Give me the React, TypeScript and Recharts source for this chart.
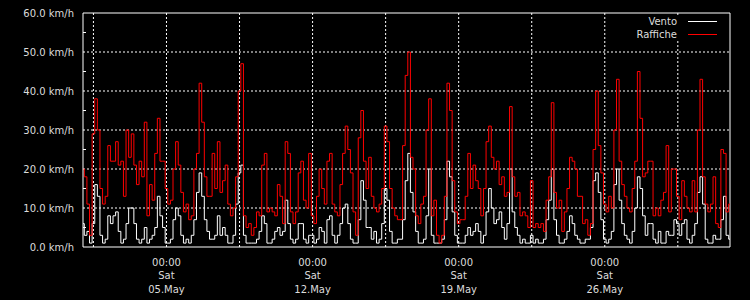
import { LineChart, Line, XAxis, YAxis, ReferenceLine, Legend } from "recharts";

const FONT = "DejaVu Sans";
const TEXT = "#dcdcdc";

// one sample every 3 hours, starting 01.May 00:00
const stepHours = 3;

const vento = [
  6, 3, 4, 1, 6, 16, 13, 3, 1, 2,
  8, 6, 8, 9, 4, 1, 2, 6, 10, 10,
  6, 2, 1, 2, 5, 1, 2, 3, 5, 13,
  8, 5, 1, 1, 2, 7, 10, 8, 3, 1,
  2, 1, 3, 7, 14, 19, 13, 7, 4, 2,
  2, 3, 8, 3, 5, 3, 1, 1, 3, 11,
  19, 21, 3, 1, 1, 1, 1, 2, 4, 8,
  6, 1, 1, 2, 4, 5, 3, 4, 12, 6,
  2, 1, 2, 6, 6, 2, 1, 3, 3, 1,
  2, 5, 4, 1, 7, 8, 3, 1, 3, 6,
  10, 11, 6, 2, 1, 1, 7, 17, 12, 5,
  5, 2, 4, 1, 2, 6, 15, 12, 4, 1,
  1, 2, 2, 7, 17, 24, 14, 9, 4, 1,
  1, 2, 8, 20, 3, 1, 1, 1, 2, 7,
  22, 18, 9, 3, 1, 1, 1, 3, 5, 3,
  4, 6, 4, 1, 3, 9, 15, 10, 6, 7,
  9, 5, 2, 6, 20, 9, 5, 3, 1, 2,
  1, 1, 3, 1, 2, 1, 1, 2, 7, 12,
  20, 7, 3, 1, 1, 2, 4, 8, 6, 3,
  2, 1, 1, 2, 2, 5, 17, 19, 14, 7,
  2, 1, 2, 4, 16, 20, 12, 6, 3, 2,
  1, 4, 10, 18, 15, 8, 3, 6, 6, 2,
  1, 4, 1, 1, 4, 3, 3, 7, 6, 3,
  6, 7, 2, 1, 3, 6, 14, 18, 11, 2,
  1, 1, 3, 2, 2, 7, 13, 3, 2,
];

const raffiche = [
  20, 18, 11, 3, 29, 38, 30, 15, 11, 13,
  26, 22, 22, 27, 21, 22, 13, 30, 23, 29,
  21, 16, 22, 18, 32, 8, 16, 12, 24, 33,
  22, 22, 15, 11, 12, 20, 27, 21, 14, 9,
  11, 7, 8, 20, 24, 42, 32, 18, 13, 13,
  24, 15, 27, 14, 17, 21, 11, 8, 10, 18,
  40, 47, 8, 5, 6, 3, 5, 9, 8, 21,
  24, 9, 10, 9, 8, 16, 13, 6, 27, 24,
  9, 6, 9, 19, 22, 12, 10, 24, 8, 6,
  13, 20, 15, 11, 22, 24, 11, 9, 8, 16,
  24, 31, 25, 19, 9, 3, 28, 35, 22, 15,
  23, 13, 10, 9, 11, 15, 31, 27, 15, 10,
  8, 7, 7, 26, 44, 50, 23, 20, 8, 6,
  11, 13, 30, 38, 8, 12, 3, 1, 3, 13,
  42, 35, 17, 9, 6, 7, 7, 13, 24, 15,
  21, 17, 15, 8, 15, 27, 31, 23, 20, 22,
  16, 18, 13, 14, 36, 18, 13, 14, 8, 9,
  8, 5, 17, 5, 6, 5, 6, 4, 12, 18,
  37, 14, 10, 12, 4, 9, 15, 23, 22, 20,
  13, 13, 6, 7, 3, 6, 25, 40, 26, 19,
  11, 9, 13, 10, 30, 43, 22, 16, 13, 10,
  9, 15, 22, 45, 33, 18, 19, 22, 22, 8,
  10, 8, 12, 14, 26, 9, 20, 20, 13, 7,
  17, 13, 10, 9, 17, 9, 30, 43, 18, 11,
  9, 11, 18, 6, 5, 25, 24, 9, 11,
];

const seriesNames = ["Vento", "Raffiche"];
const seriesColors = ["#ffffff", "#ff0000"];

const yTicks = [0, 5, 10, 15, 20, 25, 30, 35, 40, 45, 50, 55, 60];
const yGrid = [10, 20, 30, 40, 50];

const xTickHours = [96, 264, 432, 600];
const xTickTime = ["00:00", "00:00", "00:00", "00:00"];
const xTickDay = ["Sat", "Sat", "Sat", "Sat"];
const xTickDate = ["05.May", "12.May", "19.May", "26.May"];
const xGridHours = [12, 96, 180, 264, 348, 432, 516, 600, 684];

const data = vento.map((v, i) => ({
  h: i * stepHours,
  vento: v,
  raffiche: raffiche[i],
}));

function YTick(props: any) {
  const { x, y, payload } = props;
  const v = payload.value;
  if (v % 10 !== 0) {
    // minor tick, drawn just inside the axis
    return <line x1={x + 9} x2={x + 12} y1={y} y2={y} stroke="#fff" />;
  }
  return (
    <text
      x={x}
      y={y}
      dy="0.355em"
      textAnchor="end"
      fill={TEXT}
      fontSize={10}
      fontFamily={FONT}
    >
      {v.toFixed(1)} km/h
    </text>
  );
}

function XTick(props: any) {
  const { x, y, payload } = props;
  const i = xTickHours.indexOf(payload.value);
  const lines = [xTickTime[i], xTickDay[i], xTickDate[i]];
  return (
    <g>
      {lines.map((t, k) => (
        <text
          key={k}
          x={x}
          y={y + 13 + k * 13.5}
          dy="0.355em"
          textAnchor="middle"
          fill={TEXT}
          fontSize={10}
          fontFamily={FONT}
        >
          {t}
        </text>
      ))}
    </g>
  );
}

function LegendBox() {
  return (
    <div
      style={{
        background: "#000",
        fontFamily: FONT,
        fontSize: 10,
        color: TEXT,
      }}
    >
      {seriesNames.map((name, i) => (
        <div
          key={name}
          style={{
            display: "flex",
            justifyContent: "flex-end",
            alignItems: "center",
            height: 13,
          }}
        >
          <span>{name}</span>
          <span
            style={{
              display: "inline-block",
              width: 29,
              height: 1,
              background: seriesColors[i],
              marginLeft: 11,
            }}
          />
        </div>
      ))}
    </div>
  );
}

export default function App() {
  return (
    <div
      style={{
        position: "fixed",
        left: 0,
        top: 0,
        width: 750,
        height: 300,
        background: "#000",
      }}
    >
      <LineChart
        width={750}
        height={300}
        data={data}
        margin={{ top: 13, right: 20, bottom: 0, left: 0 }}
      >
        <XAxis
          dataKey="h"
          type="number"
          domain={[0, 744]}
          ticks={xTickHours}
          tick={<XTick />}
          tickLine={false}
          tickSize={0}
          axisLine={{ stroke: "#fff" }}
          height={53}
          interval={0}
        />
        <YAxis
          domain={[0, 60]}
          ticks={yTicks}
          tick={<YTick />}
          tickLine={false}
          tickSize={0}
          tickMargin={9}
          axisLine={{ stroke: "#fff" }}
          width={83}
          interval={0}
        />
        {yGrid.map((v) => (
          <ReferenceLine key={"y" + v} y={v} stroke="#fff" strokeDasharray="2 2" />
        ))}
        {xGridHours.map((h) => (
          <ReferenceLine key={"x" + h} x={h} stroke="#fff" strokeDasharray="2 2" />
        ))}
        <ReferenceLine y={60} stroke="#fff" />
        <ReferenceLine x={744} stroke="#fff" />
        <Line
          type="step"
          dataKey="vento"
          name={seriesNames[0]}
          stroke={seriesColors[0]}
          strokeWidth={1}
          dot={false}
          isAnimationActive={false}
        />
        <Line
          type="step"
          dataKey="raffiche"
          name={seriesNames[1]}
          stroke={seriesColors[1]}
          strokeWidth={1}
          dot={false}
          isAnimationActive={false}
        />
        <Legend
          layout="vertical"
          align="center"
          verticalAlign="middle"
          content={<LegendBox />}
          wrapperStyle={{ top: 15, left: 630, width: 87 }}
        />
      </LineChart>
    </div>
  );
}
